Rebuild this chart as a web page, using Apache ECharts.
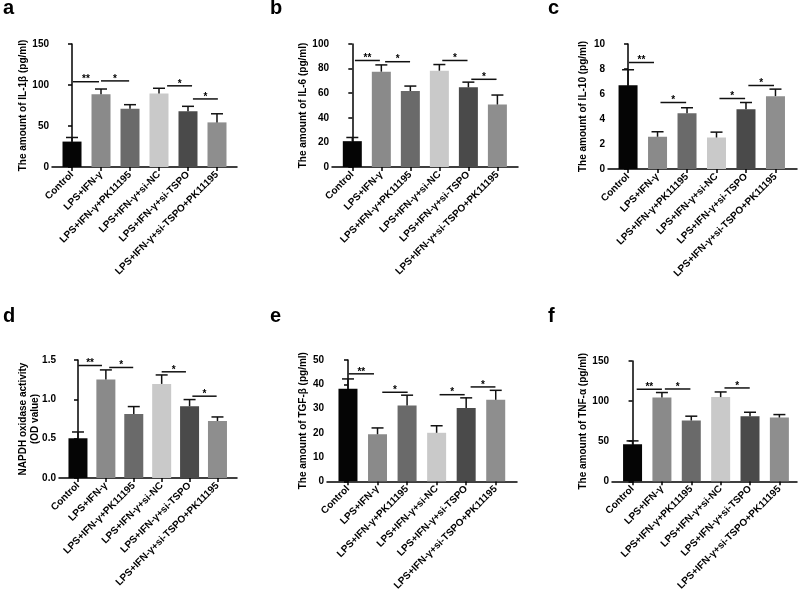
<!DOCTYPE html>
<html>
<head>
<meta charset="utf-8">
<script src="https://cdn.jsdelivr.net/npm/echarts@6/dist/echarts.min.js"></script>
<style>
html,body{margin:0;padding:0;background:#fff;}
#chart{width:800px;height:593px;}
</style>
</head>
<body>
<div id="chart"></div>
<script>
// ---------- data ----------
const categories = ['Control','LPS+IFN-γ','LPS+IFN-γ+PK11195','LPS+IFN-γ+si-NC','LPS+IFN-γ+si-TSPO','LPS+IFN-γ+si-TSPO+PK11195'];

const panelLetters = ['a','b','c','d','e','f'];
const yNames = [
  'The amount of IL-1β (pg/ml)',
  'The amount of IL-6 (pg/ml)',
  'The amount of IL-10 (pg/ml)',
  'NAPDH oxidase activity\n(OD value)',
  'The amount of TGF-β (pg/ml)',
  'The amount of TNF-α (pg/ml)'
];
const yMax = [150, 100, 10, 1.5, 50, 150];
const yInterval = [50, 20, 2, 0.5, 10, 50];

const il1bMean = [31, 88.6, 71, 89.5, 68, 54.4];
const il1bSD   = [5, 6.5, 5, 6.5, 6, 10.5];
const il6Mean  = [21, 77.5, 61.8, 78.3, 64.8, 50.8];
const il6SD    = [3, 5.5, 4, 5, 4.2, 7.7];
const il10Mean = [6.7, 2.58, 4.46, 2.52, 4.78, 5.83];
const il10SD   = [1.24, 0.4, 0.44, 0.43, 0.54, 0.56];
const noxMean  = [0.505, 1.252, 0.815, 1.196, 0.912, 0.725];
const noxSD    = [0.08, 0.122, 0.093, 0.114, 0.085, 0.051];
const tgfMean  = [38.1, 19.4, 31.2, 20, 30.2, 33.6];
const tgfSD    = [4.1, 2.6, 4.3, 2.9, 4.2, 3.9];
const tnfMean  = [46.2, 104.5, 75.8, 105, 81.2, 79.5];
const tnfSD    = [4.2, 6.2, 5.4, 6.4, 4.9, 3.7];

// significance brackets: [from, to, height, number of stars]
const il1bSig = [[0.03,0.93,104,2],[1.0,1.97,105,1],[3.28,4.14,99,1],[4.17,5.03,83,1]];
const il6Sig  = [[0.09,0.95,86.6,2],[1.13,1.99,85.6,1],[3.10,3.97,86.6,1],[4.1,4.97,71.3,1]];
const il10Sig = [[0.03,0.88,8.52,2],[1.1,1.97,5.32,1],[3.1,3.97,5.64,1],[4.08,4.95,6.68,1]];
const noxSig  = [[0.01,0.86,1.43,2],[1.12,1.98,1.405,1],[3.0,3.87,1.35,1],[4.1,4.97,1.04,1]];
const tgfSig  = [[0.02,0.88,44.3,2],[1.16,2.02,36.7,1],[3.1,3.95,35.7,1],[4.15,4.99,38.9,1]];
const tnfSig  = [[0.14,1.0,114.8,2],[1.1,1.97,115.1,1],[3.13,3.99,116.4,1]];

const means = [il1bMean, il6Mean, il10Mean, noxMean, tgfMean, tnfMean];
const sds = [il1bSD, il6SD, il10SD, noxSD, tgfSD, tnfSD];
const sigs = [il1bSig, il6Sig, il10Sig, noxSig, tgfSig, tnfSig];

// ---------- styles / layout ----------
const FONT = 'Arial, "Liberation Sans", sans-serif';
const barColors = ['#050505', '#8a8a8a', '#6a6a6a', '#c9c9c9', '#4a4a4a', '#8e8e8e'];
const grids = [
  {left:52, top:44, width:185, height:123},
  {left:332, top:44, width:186, height:123},
  {left:608, top:44, width:189, height:125},
  {left:59, top:360, width:178, height:118},
  {left:327, top:360, width:190, height:125},
  {left:612, top:361, width:185, height:122}
];
const xRange = [[-0.69,5.69],[-0.7,5.71],[-0.68,5.73],[-0.68,5.7],[-0.71,5.72],[-0.7,5.6]];
const nameGaps = [28.5, 29, 24.5, 30, 23.5, 28.5];
const letterPos = [[3,-2],[270,-2],[548,-2],[3,306],[270,306],[548,306]];
const tickIdx = [0,1,2,3,4,5];

const option = {
  animation: false,
  backgroundColor: '#fff',
  title: panelLetters.map((t,i)=>({
    text: t, left: letterPos[i][0], top: letterPos[i][1], padding: 0,
    textStyle: {fontSize: 20, fontWeight: 'bold', color: '#000', fontFamily: FONT}
  })),
  grid: grids,
  xAxis: grids.map((g,i)=>({
    type: 'value', gridIndex: i, min: xRange[i][0], max: xRange[i][1],
    axisLine: {show: true, onZero: false, lineStyle: {color: '#000', width: 1.5}},
    axisTick: {show: true, customValues: tickIdx, length: 4, lineStyle: {color: '#000', width: 1.5}},
    splitLine: {show: false},
    axisLabel: {
      customValues: tickIdx, rotate: 45, margin: 6,
      formatter: v => categories[Math.round(v)],
      fontSize: 10, fontWeight: 'bold', color: '#000', fontFamily: FONT
    }
  })),
  yAxis: grids.map((g,i)=>({
    type: 'value', gridIndex: i, min: 0, max: yMax[i], interval: yInterval[i],
    axisLine: {show: true, lineStyle: {color: '#000', width: 1.5}},
    axisTick: {show: true, length: 4, lineStyle: {color: '#000', width: 1.5}},
    splitLine: {show: false},
    axisLabel: {
      margin: 3, fontSize: 10, fontWeight: 'bold', color: '#000', fontFamily: FONT,
      formatter: v => i === 3 ? v.toFixed(1) : String(v)
    },
    name: yNames[i], nameLocation: 'middle', nameGap: nameGaps[i], nameMoveOverlap: false,
    nameTextStyle: {fontSize: 10, fontWeight: 'bold', color: '#000', fontFamily: FONT, lineHeight: 12, verticalAlign: 'middle'}
  })),
  series: []
};

for (let i = 0; i < 6; i++) {
  option.series.push({
    type: 'bar', xAxisIndex: i, yAxisIndex: i, barWidth: 19,
    data: means[i].map((v,k)=>({value:[k, v], itemStyle:{color: barColors[k]}}))
  });
  option.series.push({
    type: 'custom', xAxisIndex: i, yAxisIndex: i, z: 3,
    encode: {x: 0, y: [1, 2]},
    data: means[i].map((v,k)=>[k, v, v + sds[i][k]]),
    renderItem: (params, api) => {
      const p0 = api.coord([api.value(0), api.value(1)]);
      const p1 = api.coord([api.value(0), api.value(2)]);
      const st = {stroke: '#111', lineWidth: 1.5};
      return {type: 'group', children: [
        {type: 'line', shape: {x1: p0[0], y1: p0[1], x2: p1[0], y2: p1[1]}, style: st},
        {type: 'line', shape: {x1: p1[0]-6, y1: p1[1], x2: p1[0]+6, y2: p1[1]}, style: st}
      ]};
    }
  });
  option.series.push({
    type: 'custom', xAxisIndex: i, yAxisIndex: i, z: 3,
    encode: {x: [0, 1], y: 2},
    data: sigs[i],
    renderItem: (params, api) => {
      const a = api.coord([api.value(0), api.value(2)]);
      const b = api.coord([api.value(1), api.value(2)]);
      return {type: 'group', children: [
        {type: 'line', shape: {x1: a[0], y1: a[1], x2: b[0], y2: a[1]}, style: {stroke: '#111', lineWidth: 1.5}},
        {type: 'text', x: (a[0]+b[0])/2, y: a[1] + 3,
         style: {text: '*'.repeat(api.value(3)), align: 'center', verticalAlign: 'bottom',
                 fontSize: 10, fontWeight: 'bold', fontFamily: FONT, fill: '#000'}}
      ]};
    }
  });
}

const chart = echarts.init(document.getElementById('chart'), null, {renderer: 'canvas'});
chart.setOption(option);
</script>
</body>
</html>
